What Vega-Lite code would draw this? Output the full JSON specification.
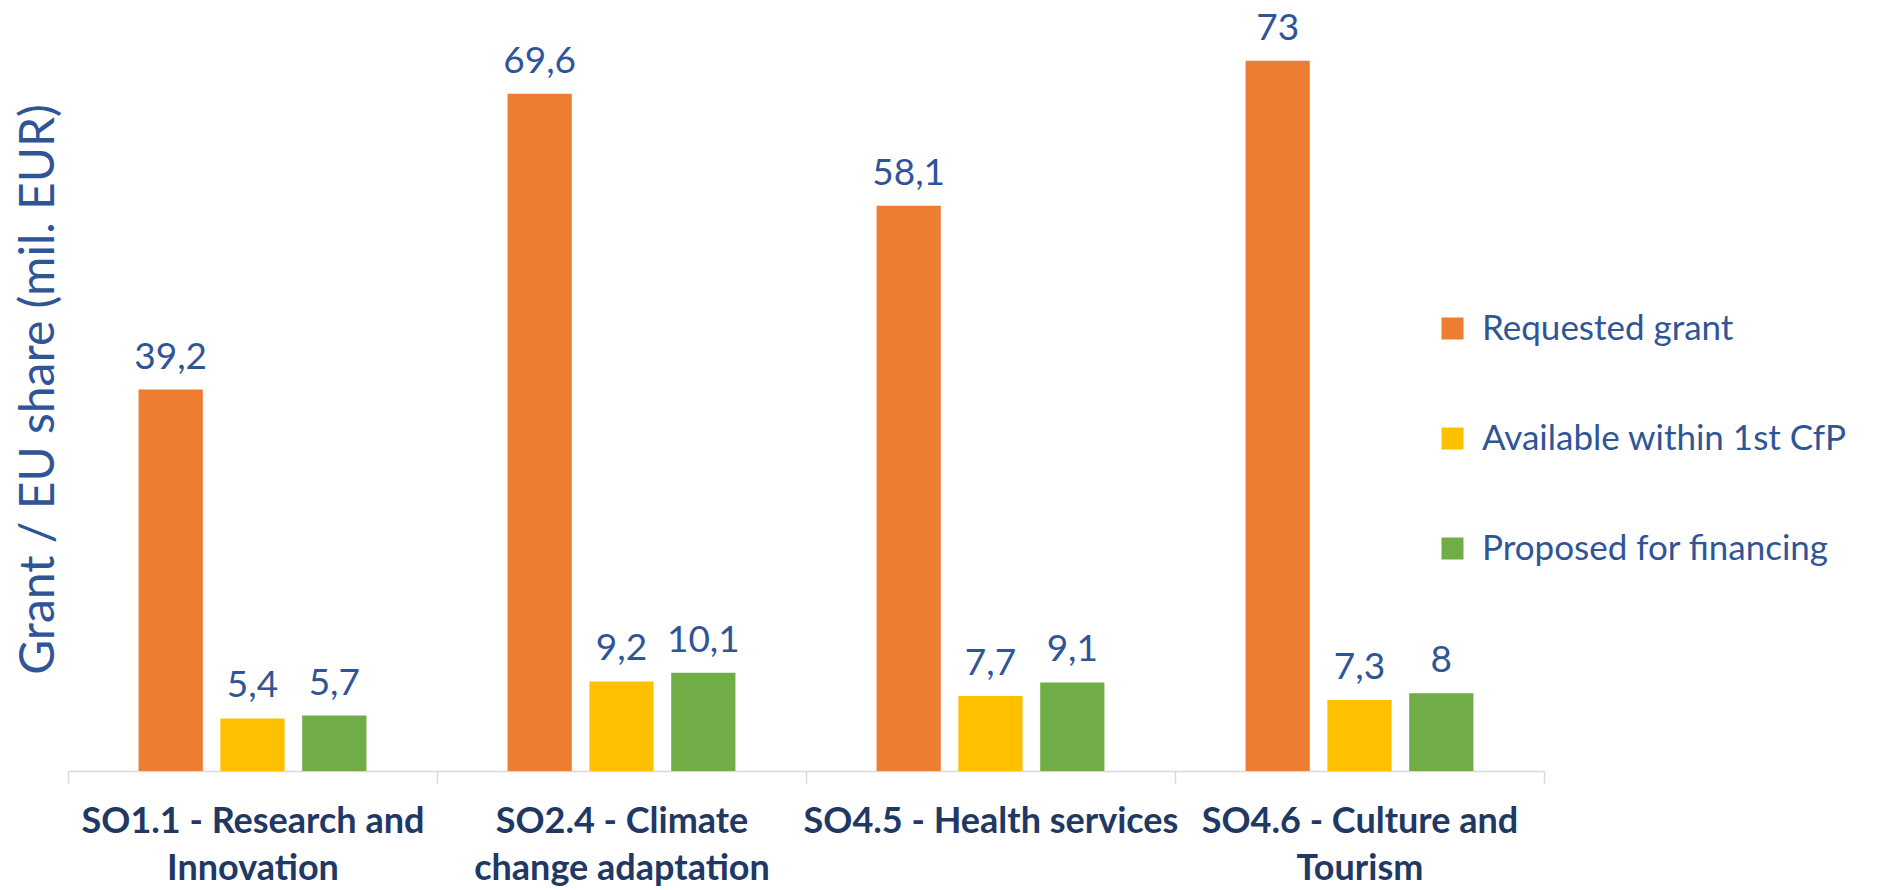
{
  "$schema": "https://vega.github.io/schema/vega-lite/v6.json",
  "width": 1476,
  "height": 771,
  "autosize": {"type": "none"},
  "padding": {"left": 68, "top": 0, "right": 335, "bottom": 119},
  "background": "white",
  "config": {
    "view": {"stroke": null},
    "font": "Lato",
    "locale": {"number": {"decimal": ",", "thousands": ".", "grouping": [3], "currency": ["", " €"]}}
  },
  "data": {
    "values": [
      {"category": "SO1.1 - Research and Innovation", "series": "Requested grant", "value": 39.2},
      {"category": "SO1.1 - Research and Innovation", "series": "Available within 1st CfP", "value": 5.4},
      {"category": "SO1.1 - Research and Innovation", "series": "Proposed for financing", "value": 5.7},
      {"category": "SO2.4 - Climate change adaptation", "series": "Requested grant", "value": 69.6},
      {"category": "SO2.4 - Climate change adaptation", "series": "Available within 1st CfP", "value": 9.2},
      {"category": "SO2.4 - Climate change adaptation", "series": "Proposed for financing", "value": 10.1},
      {"category": "SO4.5 - Health services", "series": "Requested grant", "value": 58.1},
      {"category": "SO4.5 - Health services", "series": "Available within 1st CfP", "value": 7.7},
      {"category": "SO4.5 - Health services", "series": "Proposed for financing", "value": 9.1},
      {"category": "SO4.6 - Culture and Tourism", "series": "Requested grant", "value": 73},
      {"category": "SO4.6 - Culture and Tourism", "series": "Available within 1st CfP", "value": 7.3},
      {"category": "SO4.6 - Culture and Tourism", "series": "Proposed for financing", "value": 8}
    ]
  },
  "encoding": {
    "x": {
      "field": "category",
      "type": "nominal",
      "sort": ["SO1.1 - Research and Innovation", "SO2.4 - Climate change adaptation", "SO4.5 - Health services", "SO4.6 - Culture and Tourism"],
      "scale": {"paddingInner": 0, "paddingOuter": 0},
      "axis": {
        "title": null,
        "labelExpr": "datum.label == 'SO1.1 - Research and Innovation' ? ['SO1.1 - Research and', 'Innovation'] : datum.label == 'SO2.4 - Climate change adaptation' ? ['SO2.4 - Climate', 'change adaptation'] : datum.label == 'SO4.6 - Culture and Tourism' ? ['SO4.6 - Culture and', 'Tourism'] : datum.label",
        "labelAngle": 0,
        "labelFontSize": 36,
        "labelFontWeight": "bold",
        "labelColor": "#1F3864",
        "labelLineHeight": 47,
        "labelBaseline": "top",
        "labelPadding": 21,
        "labelLimit": 1000,
        "labelOverlap": false,
        "labelFlush": false,
        "tickBand": "extent",
        "tickSize": 12,
        "tickColor": "#D9D9D9",
        "tickWidth": 1.5,
        "domainColor": "#D9D9D9",
        "domainWidth": 1.5
      }
    },
    "xOffset": {
      "field": "series",
      "sort": ["Requested grant", "Available within 1st CfP", "Proposed for financing"],
      "scale": {"paddingInner": 0.215, "paddingOuter": 0.8625}
    },
    "y": {
      "field": "value",
      "type": "quantitative",
      "scale": {"domain": [0, 79.24], "nice": false},
      "axis": {
        "title": "Grant / EU share (mil. EUR)",
        "labels": false,
        "ticks": false,
        "domain": false,
        "grid": false,
        "titleFontSize": 48,
        "titleFontWeight": "normal",
        "titleColor": "#2F5597",
        "titleX": -29,
        "titleY": 389,
        "titleAngle": -90,
        "titleAlign": "center",
        "titleBaseline": "middle"
      }
    }
  },
  "layer": [
    {
      "mark": {"type": "bar"},
      "encoding": {
        "color": {
          "field": "series",
          "type": "nominal",
          "scale": {
            "domain": ["Requested grant", "Available within 1st CfP", "Proposed for financing"],
            "range": ["#ED7D31", "#FFC000", "#70AD47"]
          },
          "legend": {
            "title": null,
            "orient": "none",
            "legendX": 1367,
            "legendY": 311,
            "symbolType": "square",
            "symbolSize": 484,
            "symbolStrokeWidth": 0,
            "symbolOpacity": 1,
            "labelFontSize": 35,
            "labelColor": "#2F5597",
            "labelOffset": 12,
            "labelLimit": 1000,
            "rowPadding": 74,
            "padding": 0
          }
        }
      }
    },
    {
      "mark": {"type": "text", "baseline": "alphabetic", "dy": -21, "fontSize": 37, "color": "#2F5597"},
      "encoding": {
        "text": {"field": "value", "type": "quantitative", "format": ".1~f"}
      }
    }
  ]
}
